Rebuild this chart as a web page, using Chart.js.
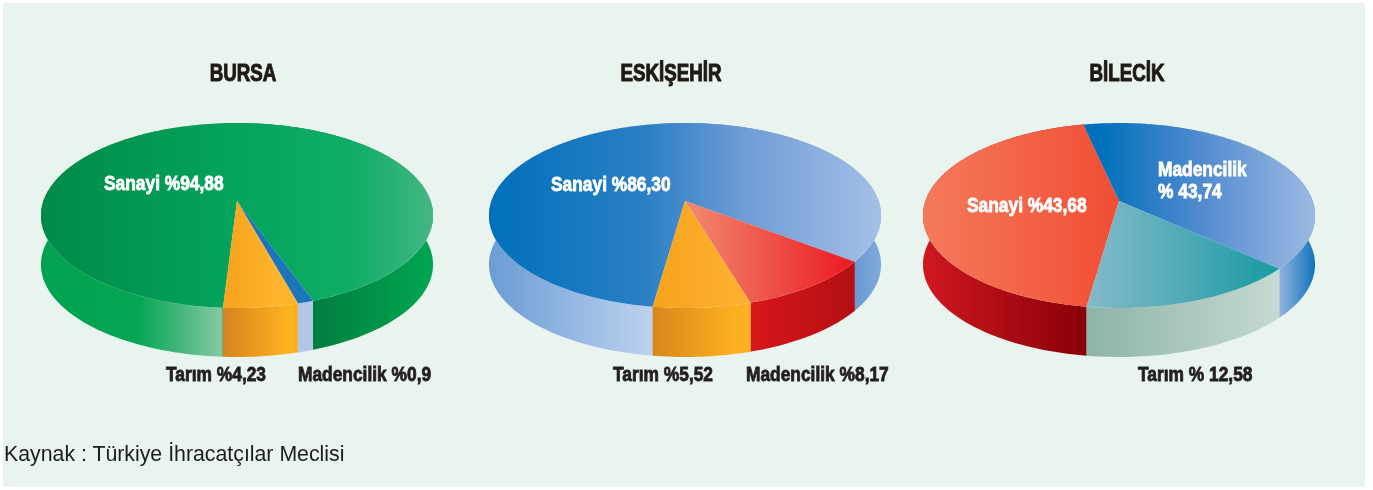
<!DOCTYPE html>
<html lang="tr">
<head>
<meta charset="utf-8">
<title>Bursa Eskişehir Bilecik</title>
<script src="https://cdn.jsdelivr.net/npm/chart.js@4"></script>
<style>
html, body { margin: 0; padding: 0; background: #fff; }
#panel { position: absolute; left: 3px; top: 3px; width: 1362px; height: 484px; background: #e9f4ee; }
canvas { position: absolute; top: 0; }
#source { position: absolute; left: 4px; top: 441px; color: #1c1c1c; font: 22px "Liberation Sans", sans-serif; white-space: nowrap; transform: scaleX(.968); transform-origin: 0 0; }
</style>
</head>
<body>
<div id="panel"></div>
<canvas id="bursa" width="440" height="490" style="left:23px;width:440px;height:490px"></canvas>
<canvas id="eskisehir" width="440" height="490" style="left:451px;width:440px;height:490px"></canvas>
<canvas id="bilecik" width="440" height="490" style="left:907px;width:440px;height:490px"></canvas>
<div id="source">Kaynak : Türkiye İhracatçılar Meclisi</div>
<script>
// values printed on the picture
var categories = ['Sanayi', 'Madencilik', 'Tarım'];
var bursa_values = [94.88, 0.9, 4.23];
var eskisehir_values = [86.30, 8.17, 5.52];
var bilecik_values = [43.68, 43.74, 12.58];
var bursa_labels = ['Sanayi %94,88', 'Madencilik %0,9', 'Tarım %4,23'];
var eskisehir_labels = ['Sanayi %86,30', 'Madencilik %8,17', 'Tarım %5,52'];
var bilecik_labels = ['Sanayi %43,68', 'Madencilik', '% 43,74', 'Tarım % 12,58'];

// pie look, same disc for all three
var RX = 193.6, RY = 90.2, PERSP = 0.157, DEPTH = 49, WARP = 0.25;
var FONT_NAME = '"Liberation Sans", sans-serif';

// gradients run left to right over the pie width
var bursa_colors = [
    { top: [[0, '#008a48'], [.5, '#04a45c'], [.8, '#10ad67'], [1, '#45b684']],
      side: [[0, '#00a24f'], [.25, '#05a654'], [.46, '#85c9a2'], [.47, '#007f40'], [.7, '#007f40'], [1, '#00a651']] },
    { top: [[0, '#1c75bc'], [1, '#1c75bc']], side: [[0, '#b2c6ea'], [1, '#b2c6ea']] },
    { top: [[.45, '#f7a11c'], [.6, '#fdb42c']], side: [[.46, '#d6821f'], [.63, '#fdb21f']] }
];
var eskisehir_colors = [
    { top: [[0, '#0070bb'], [.4, '#2a7fc4'], [.65, '#6f9cd6'], [1, '#a4c0e5']],
      side: [[0, '#6a9cd4'], [.43, '#c0d3f0'], [.44, '#5b93cd'], [.92, '#6497d0'], [1, '#80a9da']] },
    { top: [[.5, '#f28a70'], [.92, '#ec1c24']], side: [[.63, '#de171c'], [.92, '#b50f14']] },
    { top: [[.4, '#f6a11a'], [.63, '#fdb02f']], side: [[.41, '#d5851d'], [.63, '#fdb120']] }
];
var bilecik_colors = [
    { top: [[0, '#f47a5c'], [.5, '#f14d33'], [.62, '#ee3124']], side: [[0, '#cf1820'], [.42, '#880008']] },
    { top: [[.45, '#0070bb'], [.7, '#4f8ace'], [1, '#9db9e2']], side: [[.9, '#9db9e2'], [1, '#0f73bd']] },
    { top: [[.42, '#85b9ca'], [.92, '#169aa1']], side: [[.42, '#8db4a8'], [.92, '#c7dbd3']] }
];

var bursa_text = [[81, 183, '#fff', bursa_labels[0]], [275, 374, '#231f20', bursa_labels[1]], [143, 374, '#231f20', bursa_labels[2]]];
var eskisehir_text = [[100, 184, '#fff', eskisehir_labels[0]], [295, 374, '#231f20', eskisehir_labels[1]], [162, 374, '#231f20', eskisehir_labels[2]]];
var bilecik_text = [[60, 205, '#fff', bilecik_labels[0]], [251, 169, '#fff', bilecik_labels[1]], [251, 191, '#fff', bilecik_labels[2]], [231, 374, '#231f20', bilecik_labels[3]]];

// point on the rim for a chart.js angle, in perspective round the apex
function rimPoint(arc, angle) {
    var phi = Math.PI / 2 - angle;
    phi = phi + WARP * Math.sin(phi);
    var u = Math.sin(phi), v = Math.cos(phi), w = 1 - PERSP * v;
    return { x: arc.x + RX * u / w, y: arc.y + RY * v / w };
}

function makeGradient(ctx, arc, stops) {
    var g = ctx.createLinearGradient(arc.x - 196, 0, arc.x + 196, 0);
    stops.forEach(function(s) { g.addColorStop(s[0], s[1]); });
    return g;
}

// no narrow face is installed, so squeeze the text sideways
function narrowText(ctx, str, x, y, scale, color, stroke) {
    ctx.save();
    ctx.translate(x, y);
    ctx.scale(scale, 1);
    ctx.fillStyle = color;
    ctx.strokeStyle = color;
    ctx.lineWidth = stroke;
    ctx.fillText(str, 0, 0);
    ctx.strokeText(str, 0, 0);
    ctx.restore();
}

var pie3d = {
    id: 'pie3d',
    beforeDatasetsDraw: function(chart, args, opts) {
        var ctx = chart.ctx;
        var arcs = chart.getDatasetMeta(0).data;
        var step = Math.PI / 180;
        // rim first, the top face covers whatever is behind
        arcs.forEach(function(arc, i) {
            var a = arc.startAngle, pts = [];
            for (; a < arc.endAngle; a += step) pts.push(rimPoint(arc, a));
            pts.push(rimPoint(arc, arc.endAngle));
            ctx.beginPath();
            pts.forEach(function(p, k) { k ? ctx.lineTo(p.x, p.y) : ctx.moveTo(p.x, p.y); });
            for (var k = pts.length - 1; k >= 0; k--) ctx.lineTo(pts[k].x, pts[k].y + DEPTH);
            ctx.closePath();
            ctx.fillStyle = makeGradient(ctx, arc, opts.colors[i].side);
            ctx.fill();
        });
        arcs.forEach(function(arc, i) {
            ctx.beginPath();
            ctx.moveTo(arc.x, arc.y);
            for (var a = arc.startAngle; a < arc.endAngle; a += step) {
                var p = rimPoint(arc, a);
                ctx.lineTo(p.x, p.y);
            }
            var e = rimPoint(arc, arc.endAngle);
            ctx.lineTo(e.x, e.y);
            ctx.closePath();
            ctx.fillStyle = makeGradient(ctx, arc, opts.colors[i].top);
            ctx.fill();
        });
        return false;
    },
    afterDraw: function(chart, args, opts) {
        var ctx = chart.ctx;
        ctx.save();
        ctx.textAlign = 'left';
        ctx.textBaseline = 'alphabetic';
        ctx.font = 'bold 19.5px ' + FONT_NAME;
        opts.text.forEach(function(t) {
            narrowText(ctx, t[3], t[0], t[1] + 7, 0.89, t[2], 0.8);
        });
        ctx.font = 'bold 23px ' + FONT_NAME;
        ctx.textAlign = 'center';
        narrowText(ctx, opts.title, chart.width / 2, 81, 0.815, '#1f1a17', 1);
        ctx.restore();
    }
};

function drawPie(id, title, values, colors, text, rotation, padLeft, padRight) {
    new Chart(document.getElementById(id), {
        type: 'pie',
        data: { labels: categories, datasets: [{ data: values, borderWidth: 0 }] },
        plugins: [pie3d],
        options: {
            responsive: false,
            animation: false,
            rotation: rotation,
            layout: { padding: { left: padLeft, right: padRight, top: 83, bottom: 171 } },
            plugins: {
                legend: { display: false },
                tooltip: { enabled: false },
                pie3d: { colors: colors, text: text, title: title }
            }
        }
    });
}

window.onload = function() {
    drawPie('bursa', 'BURSA', bursa_values, bursa_colors, bursa_text, 182.8, 0, 12);
    drawPie('eskisehir', 'ESKİŞEHİR', eskisehir_values, eskisehir_colors, eskisehir_text, 186.5, 28, 0);
    drawPie('bilecik', 'BİLECİK', bilecik_values, bilecik_colors, bilecik_text, 186.5, 0, 16);
};
</script>
</body>
</html>
